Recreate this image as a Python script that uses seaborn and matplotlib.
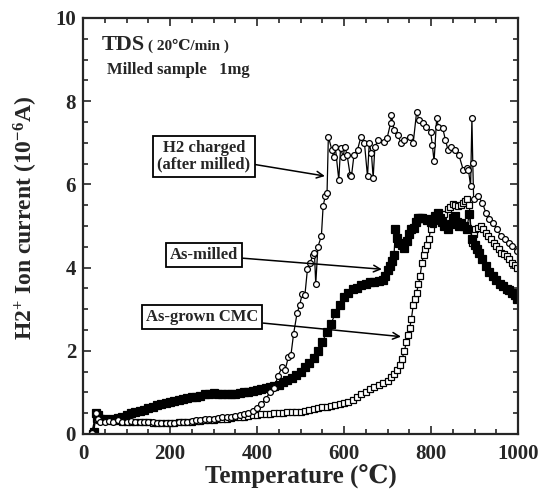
import matplotlib
matplotlib.use("Agg")
import matplotlib.pyplot as plt
import seaborn as sns
import pandas as pd
from matplotlib.ticker import MultipleLocator

sns.set_style("ticks")
plt.rcParams['font.family'] = ['Liberation Serif', 'DejaVu Serif']
plt.rcParams['font.weight'] = 'bold'
plt.rcParams['mathtext.default'] = 'regular'

# ---- data ----
h2_T = [20, 30, 35, 40, 50, 60, 70, 80, 90, 100, 110, 120, 130, 140, 150, 160, 170, 180, 190, 200,
        210, 220, 230, 240, 250, 260, 270, 280, 290, 300, 310, 320, 330, 340, 350, 360, 370, 380, 390, 400,
        410, 420, 430, 440, 448, 458, 465, 472, 478, 484, 492, 498, 504, 510, 516, 522, 528, 532, 535, 540,
        548, 552, 557, 561, 564, 572, 576, 580, 588, 592, 598, 602, 607, 614, 617, 623, 631, 639, 647, 654,
        658, 663, 667, 671, 679, 691, 699, 707, 709, 715, 723, 731, 739, 751, 759, 767, 772, 781, 789, 799,
        803, 807, 813, 817, 827, 833, 839, 846, 856, 864, 874, 882, 886, 891, 894, 896, 898, 908, 918, 926,
        934, 943, 951, 961, 970, 980, 986, 998]
h2_I = [0.02, 0.5, 0.35, 0.3, 0.3, 0.32, 0.3, 0.33, 0.3, 0.3, 0.32, 0.3, 0.3, 0.28, 0.3, 0.28, 0.27, 0.26, 0.27, 0.26,
        0.27, 0.28, 0.3, 0.3, 0.32, 0.33, 0.34, 0.35, 0.36, 0.37, 0.38, 0.4, 0.4, 0.42, 0.44, 0.46, 0.48, 0.5, 0.55, 0.62,
        0.72, 0.85, 1.0, 1.1, 1.4, 1.6, 1.55, 1.85, 1.9, 2.4, 2.9, 3.1, 3.37, 3.33, 3.97, 4.1, 4.3, 4.36, 3.6, 4.5,
        4.76, 5.48, 5.72, 5.8, 7.15, 6.83, 6.67, 6.9, 6.11, 6.87, 6.67, 6.9, 6.71, 6.23, 6.19, 6.71, 6.83, 7.15, 6.99, 6.19,
        6.99, 6.75, 6.15, 6.91, 7.07, 7.03, 7.11, 7.47, 7.67, 7.31, 7.19, 7.0, 7.07, 7.15, 6.99, 7.75, 7.55, 7.47, 7.39, 7.27,
        6.95, 6.55, 7.59, 7.39, 7.35, 7.07, 6.83, 6.91, 6.83, 6.71, 6.35, 6.39, 6.35, 5.96, 7.59, 6.51, 5.64, 5.72, 5.56, 5.32,
        5.16, 5.08, 4.92, 4.76, 4.68, 4.6, 4.52, 4.39]

milled_T = [25, 30, 35, 40, 50, 60, 70, 80, 90, 100, 110, 120, 130, 140, 150, 160, 170, 180, 190, 200,
            210, 220, 230, 240, 250, 260, 270, 280, 290, 300, 310, 320, 330, 340, 350, 360, 370, 380, 390, 400,
            410, 420, 430, 440, 450, 460, 470, 480, 490, 500, 510, 520, 530, 540, 550, 560, 570, 580, 590, 600,
            610, 620, 630, 640, 650, 660, 670, 680, 690, 695, 700, 705, 710, 715, 718, 722, 727, 733, 739, 745,
            750, 755, 760, 765, 770, 775, 780, 790, 795, 800, 805, 810, 815, 820, 825, 830, 838, 845, 850, 854,
            860, 865, 870, 875, 882, 888, 894, 900, 905, 910, 918, 926, 934, 942, 950, 958, 966, 974, 980, 986,
            992, 998]
milled_I = [0.05, 0.5, 0.45, 0.35, 0.35, 0.33, 0.35, 0.38, 0.42, 0.46, 0.5, 0.53, 0.55, 0.58, 0.62, 0.66, 0.7, 0.72, 0.75, 0.78,
            0.8, 0.82, 0.84, 0.86, 0.88, 0.9, 0.92, 0.95, 0.97, 0.98, 0.97, 0.96, 0.95, 0.95, 0.96, 0.98, 1.0, 1.02, 1.04, 1.06,
            1.08, 1.1, 1.12, 1.15, 1.18, 1.24, 1.3, 1.34, 1.42, 1.5, 1.6, 1.7, 1.83, 2.0, 2.2, 2.45, 2.65, 2.9, 3.1, 3.29,
            3.4, 3.48, 3.52, 3.57, 3.6, 3.65, 3.66, 3.68, 3.7, 3.8, 3.95, 4.05, 4.15, 4.3, 4.92, 4.7, 4.6, 4.55, 4.48, 4.65,
            4.8, 4.92, 4.95, 5.1, 5.2, 5.2, 5.2, 5.15, 5.16, 5.1, 5.15, 5.25, 5.32, 5.2, 5.1, 5.0, 4.92, 5.05, 5.2, 5.24,
            5.1, 5.0, 5.08, 5.0, 4.92, 5.3, 4.68, 4.55, 4.45, 4.36, 4.2, 4.04, 3.9, 3.8, 3.7, 3.6, 3.55, 3.49, 3.45, 3.4,
            3.35, 3.25]

cmc_T = [20, 30, 40, 50, 60, 70, 80, 90, 100, 110, 120, 130, 140, 150, 160, 170, 180, 190, 200,
         210, 220, 230, 240, 250, 260, 270, 280, 290, 300, 310, 320, 330, 340, 350, 360, 370, 380, 390, 400,
         410, 420, 430, 440, 450, 460, 470, 480, 490, 500, 510, 520, 530, 540, 550, 560, 570, 580, 590, 600,
         610, 620, 630, 640, 650, 660, 670, 680, 690, 700, 708, 716, 722, 728, 733, 739, 743, 747, 751, 755,
         759, 763, 767, 771, 775, 779, 783, 787, 791, 795, 799, 805, 810, 816, 822, 830, 838, 844, 850, 856,
         862, 868, 874, 878, 882, 888, 894, 898, 902, 908, 914, 920, 926, 932, 938, 944, 950, 956, 962, 968,
         974, 980, 986, 992, 998]
cmc_I = [0.02, 0.35, 0.38, 0.35, 0.33, 0.32, 0.31, 0.3, 0.3, 0.3, 0.29, 0.28, 0.28, 0.28, 0.27, 0.27, 0.26, 0.26, 0.26,
         0.27, 0.28, 0.29, 0.3, 0.3, 0.31, 0.32, 0.33, 0.34, 0.34, 0.35, 0.36, 0.37, 0.38, 0.4, 0.41, 0.42, 0.44, 0.45, 0.46,
         0.47, 0.48, 0.49, 0.5, 0.5, 0.51, 0.52, 0.53, 0.53, 0.54, 0.56, 0.58, 0.6, 0.62, 0.64, 0.66, 0.68, 0.7, 0.72, 0.74,
         0.78, 0.82, 0.88, 0.95, 1.02, 1.08, 1.12, 1.18, 1.22, 1.28, 1.36, 1.45, 1.55, 1.66, 1.8, 2.0, 2.2, 2.37, 2.55, 2.77,
         3.09, 3.25, 3.4, 3.6, 3.8, 4.12, 4.3, 4.44, 4.55, 4.68, 4.92, 5.05, 5.16, 5.2, 5.24, 5.3, 5.4, 5.45, 5.52, 5.5,
         5.48, 5.5, 5.56, 5.6, 5.64, 5.5, 4.6, 4.8, 4.92, 4.95, 5.0, 4.92, 4.84, 4.75, 4.68, 4.6, 4.52, 4.45, 4.36, 4.32,
         4.28, 4.2, 4.12, 4.06, 4.0]

labels = ["H2 charged\n(after milled)", "As-milled", "As-grown CMC"]

# ---- figure ----
fig = plt.figure(figsize=(5.45, 4.91), dpi=100)
ax = fig.add_axes([0.1523, 0.1161, 0.7982, 0.8473])

common = dict(color='black', lw=0.9, markeredgewidth=0.9,
              estimator=None, sort=False, legend=False, ax=ax)
sns.lineplot(x=cmc_T, y=cmc_I, marker='s', markersize=4.2, markerfacecolor='white',
             markeredgecolor='black', **common)
sns.lineplot(x=milled_T, y=milled_I, marker='s', markersize=5.2, markerfacecolor='black',
             markeredgecolor='black', **common)
sns.lineplot(x=h2_T, y=h2_I, marker='o', markersize=4.2, markerfacecolor='white',
             markeredgecolor='black', **common)

ax.set_xlim(0, 1000)
ax.set_ylim(0, 10)
ax.xaxis.set_major_locator(MultipleLocator(200))
ax.xaxis.set_minor_locator(MultipleLocator(50))
ax.yaxis.set_major_locator(MultipleLocator(2))
ax.yaxis.set_minor_locator(MultipleLocator(0.5))
ax.tick_params(which='both', direction='in', top=True, right=True, width=1.2)
ax.tick_params(which='major', length=6, labelsize=15)
ax.tick_params(axis='x', which='major', pad=7)
ax.tick_params(axis='y', which='major', pad=5)
ax.tick_params(which='minor', length=3.5)
for lab in ax.get_xticklabels() + ax.get_yticklabels():
    lab.set_fontweight('bold')
for s in ax.spines.values():
    s.set_linewidth(1.6)

ax.set_xlabel("Temperature (℃)", fontsize=18, fontweight='bold', labelpad=1)
ax.set_ylabel("H2$^{+}$ Ion current (10$^{-6}$A)", fontsize=17, fontweight='bold', labelpad=6)
ax.yaxis.set_label_coords(-0.098, 0.52)

# header text
ax.text(44, 9.35, "TDS", fontsize=16, fontweight='bold', va='center', ha='left')
ax.text(149, 9.33, "( 20℃/min )", fontsize=11, fontweight='bold', va='center', ha='left')
ax.text(55, 8.75, "Milled sample   1mg", fontsize=12, fontweight='bold', va='center', ha='left')

bbox = dict(boxstyle='square,pad=0.25', fc='white', ec='black', lw=1.3)
arrow = dict(arrowstyle='->', color='black', lw=1.1, shrinkA=0, shrinkB=0)
ax.annotate(labels[0], xy=(556, 6.2), xytext=(278, 6.68), ha='center', va='center',
            fontsize=12, fontweight='bold', bbox=bbox, arrowprops=arrow, linespacing=1.05)
ax.annotate(labels[1], xy=(687, 3.96), xytext=(278, 4.3), ha='center', va='center',
            fontsize=12, fontweight='bold', bbox=bbox, arrowprops=arrow)
ax.annotate(labels[2], xy=(731, 2.34), xytext=(274, 2.81), ha='center', va='center',
            fontsize=12, fontweight='bold', bbox=bbox, arrowprops=arrow)

fig.savefig("out.png", dpi=100)
